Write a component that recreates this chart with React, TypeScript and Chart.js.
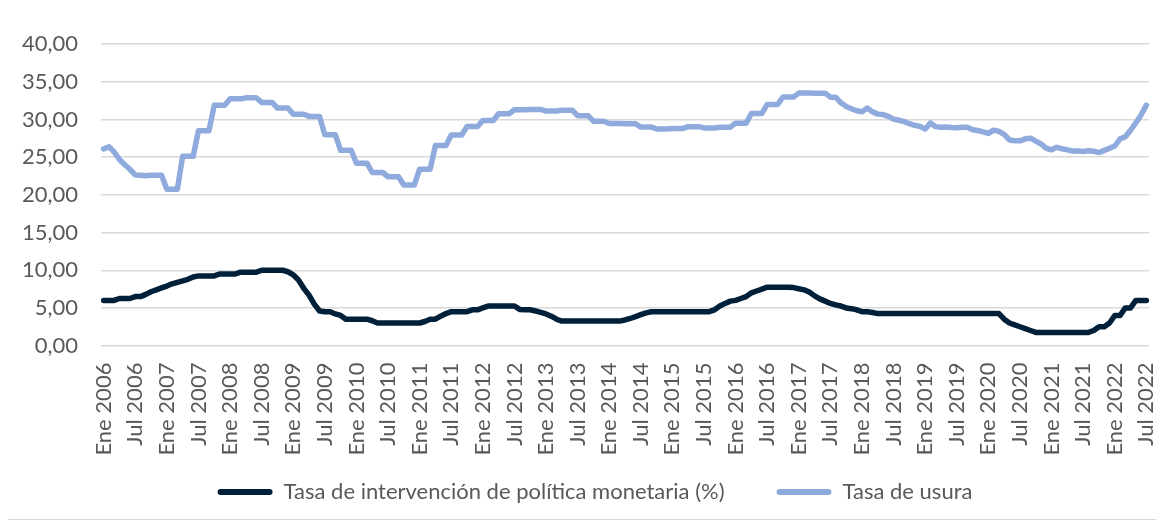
import React, { useEffect, useRef } from "react";
import { Chart, registerables } from "chart.js";

Chart.register(...registerables);

// ---- categories (monthly, Ene 2006 – Jul 2022) ----
const MONTHS = ["Ene", "Feb", "Mar", "Abr", "May", "Jun", "Jul", "Ago", "Sep", "Oct", "Nov", "Dic"];
const YEARS = [2006, 2007, 2008, 2009, 2010, 2011, 2012, 2013, 2014, 2015, 2016, 2017, 2018, 2019, 2020, 2021, 2022];
const LAST_LABEL = "Jul 2022";
const categories: string[] = [];
outer: for (const y of YEARS) {
  for (const m of MONTHS) {
    const l = `${m} ${y}`;
    categories.push(l);
    if (l === LAST_LABEL) break outer;
  }
}
const LABEL_EVERY = 6; // Ene / Jul

// ---- series ----
const SERIES_NAMES = ["Tasa de intervención de política monetaria (%)", "Tasa de usura"];

const intervencion: number[] = [
  // 2006
  6.0, 6.0, 6.0, 6.25, 6.25, 6.25, 6.5, 6.5, 6.8, 7.15, 7.4, 7.65,
  // 2007
  7.9, 8.2, 8.4, 8.6, 8.8, 9.1, 9.25, 9.25, 9.25, 9.25, 9.5, 9.5,
  // 2008
  9.5, 9.5, 9.75, 9.75, 9.75, 9.75, 10.0, 10.0, 10.0, 10.0, 10.0, 9.8,
  // 2009
  9.4, 8.7, 7.6, 6.7, 5.5, 4.6, 4.5, 4.5, 4.2, 4.0, 3.5, 3.5,
  // 2010
  3.5, 3.5, 3.5, 3.3, 3.0, 3.0, 3.0, 3.0, 3.0, 3.0, 3.0, 3.0,
  // 2011
  3.0, 3.2, 3.5, 3.5, 3.9, 4.25, 4.5, 4.5, 4.5, 4.5, 4.75, 4.75,
  // 2012
  5.0, 5.25, 5.25, 5.25, 5.25, 5.25, 5.25, 4.8, 4.75, 4.75, 4.6, 4.4,
  // 2013
  4.2, 3.9, 3.5, 3.25, 3.25, 3.25, 3.25, 3.25, 3.25, 3.25, 3.25, 3.25,
  // 2014
  3.25, 3.25, 3.25, 3.4, 3.6, 3.85, 4.1, 4.35, 4.5, 4.5, 4.5, 4.5,
  // 2015
  4.5, 4.5, 4.5, 4.5, 4.5, 4.5, 4.5, 4.5, 4.75, 5.25, 5.6, 5.9,
  // 2016
  6.0, 6.25, 6.5, 7.0, 7.25, 7.5, 7.75, 7.75, 7.75, 7.75, 7.75, 7.7,
  // 2017
  7.55, 7.4, 7.1, 6.6, 6.2, 5.9, 5.6, 5.4, 5.25, 5.0, 4.9, 4.75,
  // 2018
  4.5, 4.5, 4.4, 4.25, 4.25, 4.25, 4.25, 4.25, 4.25, 4.25, 4.25, 4.25,
  // 2019
  4.25, 4.25, 4.25, 4.25, 4.25, 4.25, 4.25, 4.25, 4.25, 4.25, 4.25, 4.25,
  // 2020
  4.25, 4.25, 4.25, 3.5, 3.0, 2.75, 2.5, 2.25, 2.0, 1.75, 1.75, 1.75,
  // 2021
  1.75, 1.75, 1.75, 1.75, 1.75, 1.75, 1.75, 1.75, 2.0, 2.5, 2.5, 3.0,
  // 2022
  4.0, 4.0, 5.0, 5.0, 6.0, 6.0, 6.0,
];

const usura: number[] = [
  // 2006
  26.1, 26.4, 25.7, 24.7, 24.0, 23.4, 22.65, 22.6, 22.55, 22.6, 22.62, 22.61,
  // 2007
  20.75, 20.75, 20.75, 25.12, 25.12, 25.12, 28.51, 28.51, 28.51, 31.89, 31.89, 31.89,
  // 2008
  32.75, 32.75, 32.75, 32.88, 32.88, 32.88, 32.27, 32.27, 32.27, 31.53, 31.53, 31.53,
  // 2009
  30.71, 30.71, 30.71, 30.42, 30.42, 30.42, 27.98, 27.98, 27.98, 25.92, 25.92, 25.92,
  // 2010
  24.21, 24.21, 24.21, 22.97, 22.97, 22.97, 22.41, 22.41, 22.41, 21.32, 21.32, 21.32,
  // 2011
  23.42, 23.42, 23.42, 26.54, 26.54, 26.54, 27.95, 27.95, 27.95, 29.09, 29.09, 29.09,
  // 2012
  29.88, 29.88, 29.88, 30.78, 30.78, 30.78, 31.29, 31.29, 31.29, 31.34, 31.34, 31.34,
  // 2013
  31.13, 31.13, 31.13, 31.25, 31.25, 31.25, 30.51, 30.51, 30.51, 29.78, 29.78, 29.78,
  // 2014
  29.48, 29.48, 29.48, 29.45, 29.45, 29.45, 29.0, 29.0, 29.0, 28.76, 28.76, 28.76,
  // 2015
  28.82, 28.82, 28.82, 29.06, 29.06, 29.06, 28.89, 28.89, 28.89, 28.99, 28.99, 28.99,
  // 2016
  29.52, 29.52, 29.52, 30.81, 30.81, 30.81, 32.01, 32.01, 32.01, 32.99, 32.99, 32.99,
  // 2017
  33.51, 33.51, 33.51, 33.5, 33.5, 33.5, 32.97, 32.97, 32.22, 31.73, 31.44, 31.16,
  // 2018
  31.04, 31.52, 31.02, 30.72, 30.66, 30.42, 30.05, 29.91, 29.72, 29.45, 29.24, 29.1,
  // 2019
  28.74, 29.55, 29.06, 28.98, 29.01, 28.95, 28.92, 28.98, 28.98, 28.65, 28.55, 28.37,
  // 2020
  28.16, 28.59, 28.43, 28.04, 27.29, 27.18, 27.18, 27.44, 27.53, 27.14, 26.76, 26.19,
  // 2021
  25.98, 26.31, 26.12, 25.97, 25.83, 25.82, 25.77, 25.86, 25.79, 25.62, 25.91, 26.19,
  // 2022
  26.49, 27.45, 27.71, 28.58, 29.57, 30.6, 31.92,
];

const Y_MIN = 0;
const Y_MAX = 40;
const Y_STEP = 5;

// ---- styles ----
const COLORS = ["#00203A", "#8FAADC"];
const TEXT = "#595959";
const GRID = "#D9D9D9";
const FONT = "Lato";
const FONT_SIZE = 22;
const LINE_W = 5.5;

// ---- layout (canvas px) ----
const W = 1151;
const H = 511;
const PAD = { left: 33, right: 10, top: 28, bottom: 6 };
const Y_AXIS_W = 60;
const Y_TICK_PAD = 23;
const X_TICK_PAD = 17;
const LEGEND_PAD = 52;
const LEGEND_BOX_W = 55;
const LEGEND_BOX_H = 6;
const LEGEND_H = FONT_SIZE + LEGEND_PAD + 10;
const CHART_BOTTOM = 337.6;
const X_AXIS_H = H - PAD.bottom - LEGEND_H - CHART_BOTTOM;

// scales normally clip their tick labels to their own box; the tight layout
// above lets labels extend past it, so turn that clipping off.
const noLabelClip = {
  id: "noLabelClip",
  afterLayout(chart: any) {
    Object.values(chart.scales).forEach((s: any) => {
      s._computeLabelArea = () => undefined;
    });
  },
};

export default function App() {
  const ref = useRef<HTMLCanvasElement | null>(null);

  useEffect(() => {
    if (!ref.current) return;
    const chart = new Chart(ref.current, {
      type: "line",
      data: {
        labels: categories,
        datasets: [
          {
            label: SERIES_NAMES[0],
            data: intervencion,
            borderColor: COLORS[0],
            backgroundColor: COLORS[0],
            borderWidth: LINE_W,
            pointRadius: 0,
            tension: 0,
            borderJoinStyle: "round",
            borderCapStyle: "round",
          },
          {
            label: SERIES_NAMES[1],
            data: usura,
            borderColor: COLORS[1],
            backgroundColor: COLORS[1],
            borderWidth: LINE_W,
            pointRadius: 0,
            tension: 0,
            borderJoinStyle: "round",
            borderCapStyle: "round",
          },
        ],
      },
      plugins: [noLabelClip],
      options: {
        responsive: false,
        animation: false,
        layout: { padding: PAD },
        font: { family: FONT, size: FONT_SIZE },
        plugins: {
          tooltip: { enabled: false },
          legend: {
            position: "bottom",
            labels: {
              color: TEXT,
              font: { family: FONT, size: FONT_SIZE },
              boxWidth: LEGEND_BOX_W,
              boxHeight: LEGEND_BOX_H,
              padding: LEGEND_PAD,
              generateLabels: (c: any) =>
                Chart.defaults.plugins.legend.labels.generateLabels(c).map((l: any) => ({
                  ...l,
                  fillStyle: l.strokeStyle,
                  lineWidth: 0,
                  borderRadius: 3,
                })),
            },
          },
        },
        scales: {
          x: {
            type: "category",
            offset: true,
            grid: { display: false, drawTicks: false },
            border: { display: false },
            ticks: {
              autoSkip: false,
              minRotation: 90,
              maxRotation: 90,
              padding: X_TICK_PAD,
              color: TEXT,
              font: { family: FONT, size: FONT_SIZE },
              callback: (_v: any, i: number) => (i % LABEL_EVERY === 0 ? categories[i] : null),
            },
            afterFit: (s: any) => {
              s.height = X_AXIS_H;
              s.paddingLeft = 0;
              s.paddingRight = 0;
            },
          },
          y: {
            min: Y_MIN,
            max: Y_MAX,
            grid: { color: GRID, lineWidth: 1.5, drawTicks: false },
            border: { display: false },
            ticks: {
              stepSize: Y_STEP,
              padding: Y_TICK_PAD,
              color: TEXT,
              font: { family: FONT, size: FONT_SIZE },
              callback: (v: any) => Number(v).toFixed(2).replace(".", ","),
            },
            afterFit: (s: any) => {
              s.width = Y_AXIS_W;
            },
          },
        },
      },
    });
    return () => chart.destroy();
  }, []);

  return (
    <div
      style={{
        position: "relative",
        width: W + 2,
        height: H + 2,
        boxSizing: "border-box",
        border: `1px solid ${GRID}`,
        margin: "-1px 0 0 -1px",
        background: "#fff",
      }}
    >
      <canvas ref={ref} width={W} height={H} style={{ display: "block", width: W, height: H }} />
    </div>
  );
}
